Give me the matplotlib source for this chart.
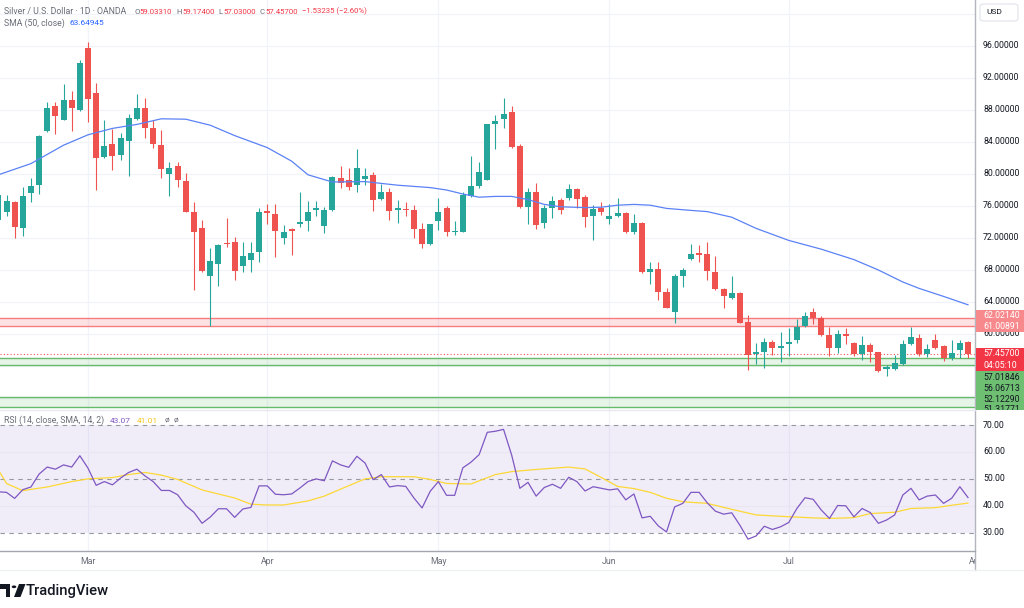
import matplotlib.pyplot as plt
from matplotlib.patches import Rectangle, FancyBboxPatch, Polygon, Circle
from matplotlib.lines import Line2D
from matplotlib.transforms import Bbox, TransformedBbox

plt.rcParams['font.family'] = ['Roboto', 'DejaVu Sans']

W, H = 1024, 608

def fx(px):
    return px / W

def fy(py):
    return 1 - py / H

"""Data read off the chart (one candle per trading day, index 0..119)"""
opens = [74.3, 75.3, 76.45, 73.3, 77.65, 78.6, 85.4, 88.5, 86.75, 89.25,
         88.0, 95.8, 90.1, 82.1, 83.8, 82.4, 84.1, 86.9, 88.3, 85.7,
         83.6, 79.96, 81.0, 79.1, 75.3, 73.2, 67.2, 68.8, 71.4, 71.5,
         68.5, 69.3, 70.3, 75.4, 75.0, 71.96, 73.1, 73.7, 74.1, 75.5,
         73.5, 75.5, 79.55, 79.25, 78.6, 79.4, 79.9, 76.9, 77.7, 75.55,
         75.6, 75.5, 73.1, 71.2, 74.1, 75.8, 72.7, 72.8, 77.25, 78.5,
         79.3, 86.2, 86.9, 87.8, 83.5, 75.9, 77.7, 73.9, 75.7, 76.75,
         76.95, 78.1, 77.1, 74.7, 75.7, 74.4, 74.8, 75.1, 72.7, 73.9,
         67.7, 68.1, 65.3, 62.8, 67.3, 69.4, 70.1, 69.96, 67.8, 65.6,
         64.5, 65.1, 61.5, 57.5, 57.7, 59.05, 58.2, 58.7, 59.25, 61.0,
         62.8, 61.95, 59.9, 58.2, 59.95, 58.9, 57.5, 58.6, 57.7, 55.6,
         55.6, 56.25, 58.7, 59.5, 57.5, 59.3, 58.5, 57.0, 58.0, 59.0331]
highs = [77.6, 77.4, 76.6, 78.4, 79.5, 84.9, 89.0, 89.0, 91.3, 90.4,
         94.25, 96.5, 91.4, 86.8, 85.6, 85.1, 87.5, 90.0, 89.5, 86.8,
         85.5, 81.5, 81.5, 80.1, 76.5, 74.25, 70.7, 71.25, 74.5, 72.15,
         71.5, 71.5, 75.7, 76.2, 76.3, 73.6, 73.2, 77.7, 76.6, 76.6,
         75.9, 79.7, 81.0, 80.8, 83.1, 80.7, 80.3, 78.75, 78.3, 76.7,
         76.5, 76.1, 73.9, 73.8, 76.96, 76.0, 74.1, 77.8, 82.2, 81.5,
         86.3, 87.4, 89.5, 88.5, 83.8, 78.2, 78.9, 76.1, 77.2, 76.95,
         78.75, 78.3, 77.4, 76.1, 76.5, 76.25, 76.96, 75.3, 74.96, 74.0,
         69.05, 69.05, 65.7, 67.5, 68.3, 71.2, 71.1, 71.5, 69.75, 65.7,
         67.2, 65.2, 62.4, 58.9, 59.5, 59.3, 60.2, 60.8, 61.9, 62.8,
         63.2, 62.2, 60.9, 60.5, 60.7, 59.0, 59.7, 58.85, 57.8, 56.1,
         57.4, 59.25, 60.9, 60.0, 58.8, 60.0, 58.6, 59.2, 59.25, 59.174]
lows = [73.9, 74.7, 72.0, 72.25, 76.5, 77.5, 85.3, 85.0, 86.75, 85.4,
        87.9, 86.5, 78.0, 82.0, 80.5, 81.75, 79.7, 86.75, 84.5, 83.2,
        79.5, 77.2, 78.4, 75.2, 65.5, 67.8, 61.0, 66.0, 70.9, 66.8,
        67.8, 67.7, 69.0, 73.8, 69.6, 71.2, 69.9, 73.4, 72.9, 74.8,
        72.6, 75.4, 78.2, 78.0, 77.8, 78.6, 75.4, 76.75, 74.3, 73.9,
        74.75, 72.0, 70.8, 71.1, 73.0, 72.25, 72.4, 72.7, 77.1, 78.2,
        79.25, 83.1, 85.7, 83.3, 75.8, 73.8, 73.1, 73.2, 74.5, 75.0,
        76.8, 75.7, 73.4, 71.8, 74.9, 73.8, 74.6, 72.6, 72.5, 67.6,
        66.2, 64.3, 63.2, 61.4, 65.9, 69.3, 69.0, 66.75, 65.5, 63.2,
        64.4, 61.35, 55.5, 56.25, 55.7, 57.4, 56.5, 57.2, 58.9, 60.9,
        61.3, 59.7, 57.2, 57.6, 58.8, 57.3, 56.75, 56.5, 55.2, 54.75,
        55.5, 56.1, 58.6, 57.2, 57.1, 58.1, 56.6, 56.75, 56.95, 57.03]
closes = [77.4, 76.6, 73.4, 77.2, 78.5, 84.7, 88.2, 87.2, 89.25, 88.2,
          93.9, 89.4, 82.0, 83.5, 82.2, 84.5, 87.0, 88.3, 85.7, 83.75,
          80.6, 80.7, 79.25, 75.3, 72.8, 67.9, 69.1, 71.1, 71.25, 67.9,
          69.7, 70.1, 75.2, 75.1, 72.9, 72.8, 72.9, 74.0, 75.3, 75.8,
          75.5, 79.6, 78.9, 78.4, 80.7, 79.75, 76.7, 77.7, 75.4, 75.7,
          75.5, 73.1, 71.2, 73.7, 75.3, 72.7, 72.9, 77.4, 78.5, 80.3,
          86.2, 86.6, 87.5, 83.4, 75.9, 77.7, 73.6, 75.8, 76.6, 75.5,
          78.1, 76.9, 74.6, 75.6, 75.3, 74.8, 75.1, 72.7, 73.9, 67.7,
          68.15, 65.2, 63.3, 67.3, 68.0, 69.96, 69.9, 67.9, 65.6, 64.8,
          65.1, 61.4, 57.4, 57.8, 59.05, 58.2, 58.5, 59.05, 60.9, 62.3,
          62.0, 59.9, 58.2, 59.96, 59.75, 57.5, 58.6, 57.7, 55.4, 55.85,
          56.35, 58.75, 59.6, 57.5, 58.1, 58.3, 56.96, 57.6, 58.9, 57.457]

# SMA(50) read at sample candles
sma_idx = [0, 4, 8, 11, 14, 17, 20, 23, 26, 29, 33, 36, 38, 41, 45, 49, 53, 55,
           57, 59, 61, 63, 65, 67, 69, 72, 74, 76, 78, 80, 82, 85, 87, 90, 93,
           97, 101, 105, 108, 111, 113, 116, 119]
sma_val = [79.9, 81.3, 83.6, 84.9, 85.7, 86.2, 86.9, 86.85, 86.1, 84.8, 83.3,
           81.6, 79.9, 79.0, 79.05, 78.6, 78.3, 78.0, 77.5, 77.1, 77.2, 77.2,
           76.8, 76.2, 75.9, 75.8, 75.85, 76.1, 76.2, 76.1, 75.7, 75.45, 75.3,
           74.6, 73.2, 71.7, 70.6, 69.3, 68.0, 66.5, 65.7, 64.7, 63.65]

rsi = [45.2, 45.0, 42.75, 46.0, 47.0, 51.8, 54.4, 53.6, 55.2, 54.4,
       58.6, 54.0, 47.6, 49.0, 47.8, 50.3, 52.4, 53.6, 51.1, 49.0,
       45.7, 45.7, 44.1, 40.0, 37.6, 33.5, 35.8, 38.9, 38.9, 35.7,
       38.8, 39.4, 47.4, 47.4, 44.3, 44.1, 44.4, 46.6, 49.0, 50.0,
       49.3, 56.7, 55.2, 54.3, 58.4, 55.9, 49.7, 51.6, 47.0, 47.5,
       47.2, 42.9, 39.2, 45.4, 49.0, 43.9, 43.9, 54.1, 56.2, 59.0,
       67.3, 67.7, 68.4, 58.8, 46.5, 48.7, 43.6, 46.8, 48.0, 46.5,
       50.6, 49.0, 45.5, 47.1, 46.5, 45.9, 46.3, 42.2, 44.4, 35.5,
       36.1, 32.5, 30.3, 39.6, 40.9, 45.0, 45.0, 41.1, 38.0, 36.9,
       37.4, 32.8, 27.6, 28.8, 32.4, 31.2, 32.2, 33.8, 39.0, 43.0,
       42.4, 38.4, 35.3, 40.1, 40.0, 35.9, 39.0, 37.5, 33.5, 34.7,
       36.6, 44.0, 46.5, 42.2, 43.6, 44.0, 40.9, 42.8, 47.1, 43.07]

rsi_sma_idx = [0, 1, 3, 4, 6, 9, 11, 14, 16, 18, 20, 22, 25, 29, 31, 33, 35, 38,
               40, 42, 45, 47, 51, 53, 55, 58, 61, 63, 66, 70, 72, 74, 76, 78,
               80, 82, 84, 87, 90, 93, 96, 100, 102, 105, 107, 110, 112, 115,
               117, 119]
rsi_sma_val = [53.3, 48.3, 45.6, 46.1, 47.0, 49.0, 50.0, 50.5, 51.6, 52.4,
               51.4, 49.8, 45.9, 42.9, 40.6, 40.3, 40.3, 41.8, 43.6, 46.2,
               50.0, 50.8, 50.8, 49.8, 48.3, 48.1, 51.6, 52.7, 53.5, 54.4,
               53.7, 50.5, 47.2, 46.4, 45.0, 42.8, 41.5, 40.9, 38.7, 36.6,
               36.1, 35.5, 35.3, 35.6, 37.1, 37.6, 39.0, 39.3, 40.2, 41.01]

month_names = ['Mar', 'Apr', 'May', 'Jun', 'Jul', 'Aug']
month_idx = [11, 33, 54, 75, 97, 120]

price_ticks = [60, 64, 68, 72, 76, 80, 84, 88, 92, 96]
rsi_ticks = [70, 60, 50, 40, 30]

red_zone = (61.00891, 62.02140)
green_zone = (56.06713, 57.01846)
green_zone_low = (50.9, 52.12290)
last_price = 57.457

"""Colours"""
UP = '#26a69a'
DOWN = '#ef5350'
GRID = '#f0f3fa'
TXT = '#131722'
GREY = '#6a6d78'

fig = plt.figure(figsize=(W / 100, H / 100), dpi=100)
fig.patch.set_facecolor('white')
renderer = fig.canvas.get_renderer()

ax = fig.add_axes([0, fy(410), fx(975), 410 / H])
rax = fig.add_axes([0, fy(551), fx(975), 141 / H])
for a in (ax, rax):
    a.set_xlim(0.2, 119.86)
    for s in a.spines.values():
        s.set_visible(False)
    a.set_xticks([])
    a.set_yticks([])
    for m in month_idx:
        a.axvline(m, color=GRID, lw=0.9, zorder=0)
ax.set_ylim(50.5, 101.75)
rax.set_ylim(23.2, 75.6)

"""Price pane"""
for p in [52, 56] + price_ticks + [100]:
    ax.axhline(p, color=GRID, lw=0.9, zorder=0)

ax.axhspan(*red_zone, color='#f23645', alpha=0.14, lw=0, zorder=1)
for v in red_zone:
    ax.axhline(v, color='#f77c80', lw=1.0, zorder=1)
for zone in (green_zone, green_zone_low):
    ax.axhspan(*zone, color='#4caf50', alpha=0.13, lw=0, zorder=1)
    for v in zone:
        ax.axhline(v, color='#66bb6a', lw=1.0, zorder=1)

x = list(range(len(closes)))
cols = [UP if c >= o else DOWN for o, c in zip(opens, closes)]
ax.vlines(x, lows, highs, colors=cols, lw=0.8, zorder=3)
bottoms = [min(o, c) for o, c in zip(opens, closes)]
heights = [max(abs(c - o), 0.14) for o, c in zip(opens, closes)]
ax.bar(x, heights, bottom=bottoms, width=0.74, color=cols, lw=0, zorder=4)

ax.plot(sma_idx, sma_val, color='#5b82f5', lw=0.9, zorder=5)
ax.axhline(last_price, color=DOWN, lw=0.8, ls=(0, (1, 2)), zorder=2)

ytr = ax.get_yaxis_transform()
for p in price_ticks:
    ax.text(983 / 975, p, f'{p:.5f}', transform=ytr, fontsize=6.3,
            color=TXT, va='center', ha='left', clip_on=False)

"""RSI pane"""
rax.axhspan(30, 70, color='#7e57c2', alpha=0.1, lw=0, zorder=0)
for r in (60, 40):
    rax.axhline(r, color='#e9e6f2', lw=0.8, zorder=1)
for r in (70, 50, 30):
    rax.axhline(r, color='#9598a1', lw=0.8, ls=(0, (4, 4)), zorder=1)
rax.plot(rsi_sma_idx, rsi_sma_val, color='#fdd835', lw=0.9, zorder=3)
rax.plot(x, rsi, color='#7e57c2', lw=0.9, zorder=4)

rtr = rax.get_yaxis_transform()
for r in rsi_ticks:
    rax.text(983 / 975, r, f'{r:.2f}', transform=rtr, fontsize=6.3,
             color=TXT, va='center', ha='left', clip_on=False)

clip_x = TransformedBbox(Bbox([[0, 0], [fx(975), 1]]), fig.transFigure)
xtr = rax.get_xaxis_transform()
for name, m in zip(month_names, month_idx):
    t = rax.text(m, -10 / 141, name, transform=xtr, fontsize=6.3,
                 color=GREY, ha='center', va='center', clip_on=True)
    t.set_clip_box(clip_x)

"""Frame lines"""
fig.add_artist(Line2D([fx(975), fx(975)], [fy(0), fy(570)], color='#b2b5be', lw=1))
fig.add_artist(Line2D([0, fx(975)], [fy(551), fy(551)], color='#a3a6af', lw=1))
fig.add_artist(Line2D([0, 1], [fy(570), fy(570)], color='#eef0f4', lw=1))
fig.add_artist(Line2D([0, fx(975)], [fy(410), fy(410)], color='#e6e8ee', lw=1))

"""Right side price labels"""
def price_box(y0, y1, color):
    fig.add_artist(Rectangle((fx(976), fy(y1)), fx(48), (y1 - y0) / H,
                             facecolor=color, edgecolor='none', zorder=2))

def box_text(y, s, color):
    t = fig.text(fx(983), fy(y), s, fontsize=6.3, color=color,
                 va='center', ha='left', zorder=3)
    return t

price_box(310, 332, '#f7898c')
box_text(315.5, '62.02140', 'white')
box_text(326.5, '61.00891', 'white')
price_box(348, 371, '#f23645')
box_text(354, '57.45700', 'white')
box_text(365, '04:05:10', 'white')
price_box(371, 410, '#6fbf73')
box_text(378, '57.01846', TXT)
box_text(388.5, '56.06713', TXT)
box_text(399, '52.12290', TXT)
cut = box_text(409.5, '51.31771', TXT)
cut.set_clip_box(TransformedBbox(Bbox([[0, fy(410)], [1, 1]]), fig.transFigure))
cut.set_clip_on(True)

fig.add_artist(FancyBboxPatch((fx(980), fy(21)), fx(38), 17 / H,
                              boxstyle='round,pad=0,rounding_size=0.004',
                              facecolor='white', edgecolor='#e0e3eb', lw=0.8))
fig.text(fx(986), fy(12.5), 'USD', fontsize=6, color=TXT, va='center')

"""Legends: pieces laid out left to right, measured with the renderer"""
def legend_row(px, py, pieces):
    for s, color, gap, size in pieces:
        px += gap
        t = fig.text(fx(px), fy(py), s, fontsize=size, color=color,
                     va='center', ha='left')
        px += t.get_window_extent(renderer).width

RED = '#f23645'
V = 5.6
legend_row(4, 11.5, [('Silver / U.S. Dollar · 1D · OANDA', GREY, 0, 6.3),
                     ('O', GREY, 8, V), ('59.03310', RED, 0.3, V),
                     ('H', GREY, 4, V), ('59.17400', RED, 0.3, V),
                     ('L', GREY, 4, V), ('57.03000', RED, 0.3, V),
                     ('C', GREY, 4, V), ('57.45700', RED, 0.3, V),
                     ('\u22121.53235 (\u22122.60%)', RED, 4.5, V)])
legend_row(4, 23, [('SMA (50, close)', GREY, 0, 6.3),
                   ('63.64945', '#2962ff', 5, 6.0)])
legend_row(4, 420.7, [('RSI (14, close, SMA, 14, 2)', GREY, 0, 6.3),
                      ('43.07', '#7e57c2', 6, 6.0), ('41.01', '#f5c518', 6, 6.0),
                      ('ø', GREY, 6, 6.0), ('ø', GREY, 5, 6.0)])

"""TradingView logo"""
fig.add_artist(Polygon([(fx(0), fy(584)), (fx(10), fy(584)), (fx(10), fy(597)),
                        (fx(5.5), fy(597)), (fx(5.5), fy(589)), (fx(0), fy(589))],
                       closed=True, facecolor=TXT, edgecolor='none'))
fig.add_artist(Circle((fx(14), fy(586.8)), 2.3 / W, facecolor=TXT, edgecolor='none',
                      transform=fig.transFigure))
fig.add_artist(Polygon([(fx(19), fy(584)), (fx(25.5), fy(584)), (fx(20.5), fy(597)),
                        (fx(14), fy(597))],
                       closed=True, facecolor=TXT, edgecolor='none'))
fig.text(fx(26), fy(591), 'TradingView', fontsize=10.6, fontweight='medium',
         color=TXT, va='center', ha='left')

fig.savefig('out.png', dpi=100, facecolor='white')
